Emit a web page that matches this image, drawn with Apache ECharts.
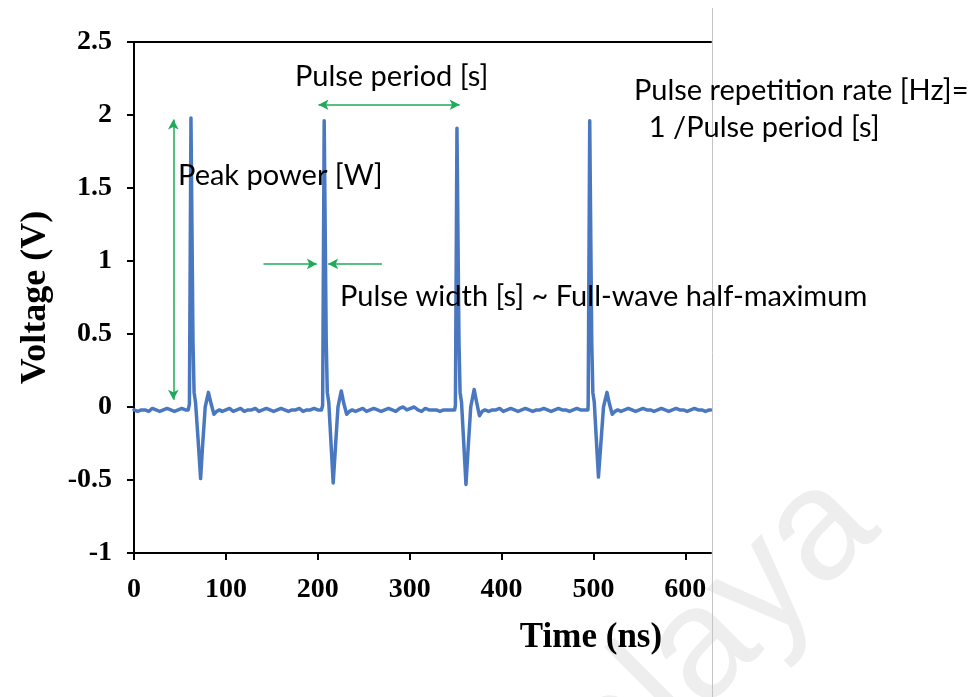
<!DOCTYPE html>
<html>
<head>
<meta charset="utf-8">
<script src="https://cdn.jsdelivr.net/npm/echarts@6/dist/echarts.min.js"></script>
<style>
  html, body { margin: 0; padding: 0; background: #ffffff; }
  #chart { width: 977px; height: 697px; }
</style>
</head>
<body>
<div id="chart"></div>
<script>
// Oscilloscope trace of a pulse train: [time (ns), voltage (V)]
const lead = [[0,-0.02],[4,-0.03],[8,-0.02],[12,-0.02],[16,-0.03],[20,-0.01],[24,-0.02],[28,-0.03],[32,-0.02],[36,-0.01],[40,-0.02],[44,-0.03],[48,-0.02],[52,-0.01],[56,-0.02],[59,-0.02]];
const pulse1 = [[60.3,0.02],[62,1.98],[64.2,0.45],[65.4,0.1],[67,0.03],[69.5,-0.2],[72.5,-0.49],[74.5,-0.28],[77.5,0.0],[81,0.1],[84,0.02],[87,-0.05],[90,-0.03],[93,-0.02]];
const gap1 = [[96,-0.03],[100,-0.02],[104,-0.01],[108,-0.03],[112,-0.02],[116,-0.01],[120,-0.03],[124,-0.02],[128,-0.02],[132,-0.01],[136,-0.03],[140,-0.02],[144,-0.01],[148,-0.02],[152,-0.03],[156,-0.02],[160,-0.01],[164,-0.02],[168,-0.03],[172,-0.02],[176,-0.02],[180,-0.01],[184,-0.03],[188,-0.02],[192,-0.02],[196,-0.01],[200,-0.02],[204,-0.02]];
const pulse2 = [[205.3,0.01],[207,1.96],[209.2,0.45],[210.4,0.1],[212,0.03],[214,-0.2],[216.8,-0.52],[219,-0.3],[222,0.0],[225.6,0.11],[228.5,0.02],[231.5,-0.05],[234.5,-0.03],[237.5,-0.02]];
const gap2 = [[241,-0.03],[245,-0.02],[249,-0.01],[253,-0.03],[257,-0.02],[261,-0.01],[265,-0.02],[269,-0.03],[273,-0.02],[277,-0.01],[281,-0.02],[285,-0.03],[289,-0.01],[293,0.0],[297,-0.02],[301,-0.01],[305,0.0],[309,-0.02],[313,-0.03],[317,-0.01],[321,-0.02],[325,-0.02],[329,-0.02],[333,-0.03],[337,-0.02],[341,-0.02],[345,-0.02],[349,-0.02]];
const pulse3 = [[349.8,0.01],[351.5,1.91],[353.7,0.45],[354.9,0.1],[356.5,0.03],[358.5,-0.2],[361.3,-0.53],[363.5,-0.3],[366.5,0.0],[370.2,0.12],[373,0.03],[376,-0.06],[379,-0.03],[382,-0.02]];
const gap3 = [[386,-0.03],[390,-0.02],[394,-0.02],[398,-0.01],[402,-0.03],[406,-0.02],[410,-0.01],[414,-0.02],[418,-0.03],[422,-0.02],[426,-0.01],[430,-0.02],[434,-0.03],[438,-0.02],[442,-0.02],[446,-0.01],[450,-0.02],[454,-0.03],[458,-0.02],[462,-0.01],[466,-0.02],[470,-0.02],[474,-0.03],[478,-0.02],[482,-0.01],[486,-0.02],[490,-0.02],[494,-0.02]];
const pulse4 = [[494.3,0.01],[496,1.96],[498.2,0.45],[499.4,0.1],[501,0.03],[503,-0.2],[505.5,-0.48],[507.8,-0.28],[511,0.0],[514.8,0.1],[517.5,0.02],[520.5,-0.05],[523.5,-0.03],[526.5,-0.02]];
const tail = [[530,-0.03],[534,-0.02],[538,-0.01],[542,-0.02],[546,-0.03],[550,-0.02],[554,-0.01],[558,-0.02],[562,-0.02],[566,-0.03],[570,-0.02],[574,-0.01],[578,-0.02],[582,-0.03],[586,-0.02],[590,-0.01],[594,-0.02],[598,-0.02],[602,-0.03],[606,-0.02],[610,-0.01],[614,-0.02],[618,-0.02],[622,-0.03],[626,-0.02],[628,-0.02]];

// Axis ticks
const xTicks = [0, 100, 200, 300, 400, 500, 600];
const yTicks = [-1, -0.5, 0, 0.5, 1, 1.5, 2, 2.5];

const trace = [].concat(lead, pulse1, gap1, pulse2, gap2, pulse3, gap3, pulse4, tail);

const GREEN = '#1faa59';
const BLUE = '#4a78c0';
const SERIF = '"Liberation Serif", "Times New Roman", serif';
const SANS = 'Lato, "Noto Sans", sans-serif';
const axisLineStyle = { color: '#000', width: 2 };

const chart = echarts.init(document.getElementById('chart'), null, { renderer: 'canvas' });

chart.setOption({
  animation: false,
  grid: { left: 134, right: 266, top: 42, bottom: 144 },
  xAxis: [
    {
      type: 'value', min: 0, max: 628, interval: 100,
      axisLine: { show: true, onZero: false, lineStyle: axisLineStyle },
      axisTick: { show: true, customValues: xTicks, length: 7, lineStyle: axisLineStyle },
      axisLabel: { customValues: xTicks, margin: 23, color: '#000', fontFamily: SERIF, fontWeight: 'bold', fontSize: 28 },
      splitLine: { show: false }
    },
    {
      type: 'value', position: 'top', min: 0, max: 628,
      axisLine: { show: true, onZero: false, lineStyle: axisLineStyle },
      axisTick: { show: false }, axisLabel: { show: false }, splitLine: { show: false }
    }
  ],
  yAxis: {
    type: 'value', min: -1, max: 2.5, interval: 0.5,
    axisLine: { show: true, onZero: false, lineStyle: axisLineStyle },
    axisTick: { show: true, customValues: yTicks, length: 7, lineStyle: axisLineStyle },
    axisLabel: { customValues: yTicks, margin: 22, color: '#000', fontFamily: SERIF, fontWeight: 'bold', fontSize: 28 },
    splitLine: { show: false },
    name: 'Voltage (V)', nameLocation: 'middle', nameGap: 80,
    nameTextStyle: { color: '#000', fontFamily: SERIF, fontWeight: 'bold', fontSize: 36 }
  },
  series: [{
    type: 'line',
    data: trace,
    symbol: 'none',
    lineStyle: { color: BLUE, width: 3.5, join: 'round', cap: 'round' },
    z: 3,
    markLine: {
      silent: true,
      symbol: ['arrow', 'arrow'],
      symbolSize: [8, 10],
      label: { show: false },
      emphasis: { disabled: true },
      lineStyle: { color: GREEN, width: 1.5, type: 'solid' },
      data: [
        [{ coord: [42.8, 1.97] }, { coord: [42.8, 0.05] }],
        [{ coord: [200.8, 2.07] }, { coord: [354.4, 2.07] }],
        [{ coord: [140.9, 0.98], symbol: 'none' }, { coord: [199, 0.98] }],
        [{ coord: [269.8, 0.98], symbol: 'none' }, { coord: [211.3, 0.98] }]
      ]
    }
  }],
  graphic: [
    {
      type: 'text', x: 852, y: 500, rotation: 45 * Math.PI / 180, z: -10, silent: true,
      style: { text: 'Malaya', fontFamily: '"Liberation Sans", Arial, sans-serif', fontSize: 158, fill: '#eeeeee', align: 'right', verticalAlign: 'middle' }
    },
    {
      type: 'line', silent: true, z: 10,
      shape: { x1: 712.5, y1: 8, x2: 712.5, y2: 697 },
      style: { stroke: '#c4c4c4', lineWidth: 1 }
    },
    {
      type: 'text', x: 591, y: 638, silent: true,
      style: { text: 'Time (ns)', fontFamily: SERIF, fontWeight: 'bold', fontSize: 35, fill: '#000', align: 'center', verticalAlign: 'middle' }
    },
    {
      type: 'text', x: 295, y: 77, silent: true, z: 10,
      style: { text: 'Pulse period [s]', fontFamily: SANS, fontSize: 29, fill: '#000', align: 'left', verticalAlign: 'middle' }
    },
    {
      type: 'text', x: 178, y: 176, silent: true, z: 10,
      style: { text: 'Peak power [W]', fontFamily: SANS, fontSize: 29, fill: '#000', align: 'left', verticalAlign: 'middle' }
    },
    {
      type: 'text', x: 340, y: 297, silent: true, z: 10,
      style: { text: 'Pulse width [s] ~ Full-wave half-maximum', fontFamily: SANS, fontSize: 29, fill: '#000', align: 'left', verticalAlign: 'middle' }
    },
    {
      type: 'text', x: 634, y: 91, silent: true, z: 10,
      style: { text: 'Pulse repetition rate [Hz]=', fontFamily: SANS, fontSize: 29, fill: '#000', align: 'left', verticalAlign: 'middle' }
    },
    {
      type: 'text', x: 634, y: 128, silent: true, z: 10,
      style: { text: '  1 /Pulse period [s]', fontFamily: SANS, fontSize: 29, fill: '#000', align: 'left', verticalAlign: 'middle' }
    }
  ]
});
</script>
</body>
</html>
